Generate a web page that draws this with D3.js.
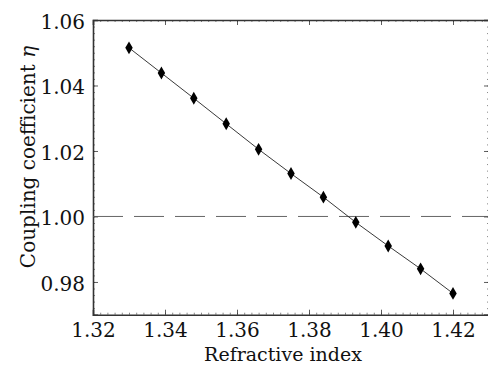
<!DOCTYPE html>
<html>
<head>
<meta charset="utf-8">
<script src="https://cdn.jsdelivr.net/npm/d3@7"></script>
<style>
  html, body { margin: 0; padding: 0; background: #fff; }
  svg text { font-family: "DejaVu Serif", "Liberation Serif", "Noto Serif", serif; fill: #111; }
</style>
</head>
<body>
<div id="chart"></div>
<script>
// values
const refractiveIndex = [1.330, 1.339, 1.348, 1.357, 1.366, 1.375, 1.384, 1.393, 1.402, 1.411, 1.420];
const couplingCoeff = [1.0515, 1.0438, 1.0361, 1.0283, 1.0205, 1.0131, 1.0059, 0.9982, 0.9910, 0.9840, 0.9765];
const xTicks = [1.32, 1.34, 1.36, 1.38, 1.40, 1.42];
const yTicks = [0.98, 1.00, 1.02, 1.04, 1.06];
const refLevel = [1.00];

const W = 488, H = 365;
const margin = {top: 20, right: -1, bottom: 50.3, left: 93};
const FONT = '"DejaVu Serif", "Liberation Serif", serif';

const svg = d3.select('#chart').append('svg')
    .attr('width', W)
    .attr('height', H);

const x = d3.scaleLinear().domain([1.32, 1.43]).range([margin.left, W - margin.right]);
const y = d3.scaleLinear().domain([0.97, 1.06]).range([H - margin.bottom, margin.top]);

const fmt = d3.format('.2f');
const xMinor = d3.range(1.32, 1.4301, 0.002);
const yMinor = d3.range(0.97, 1.0601, 0.002);

function styleAxis(g) {
    g.attr('font-family', null);
    g.select('.domain').attr('stroke', '#333').attr('stroke-width', 1.6);
    g.selectAll('.tick line').attr('stroke', '#333').attr('stroke-width', 0.8);
}

// minor ticks first, majors on top
function minor(axisFn, scale, vals, transform) {
    svg.append('g')
        .attr('transform', transform)
        .call(axisFn(scale).tickValues(vals).tickSize(-2).tickFormat(''))
        .call(g => g.select('.domain').remove())
        .call(g => g.selectAll('.tick line').attr('stroke', '#555').attr('stroke-width', 0.7));
}
minor(d3.axisBottom, x, xMinor, `translate(0,${y.range()[0]})`);
minor(d3.axisTop, x, xMinor, `translate(0,${margin.top})`);
minor(d3.axisLeft, y, yMinor, `translate(${margin.left},0)`);
minor(d3.axisRight, y, yMinor, `translate(${x.range()[1]},0)`);

// bottom
svg.append('g')
    .attr('transform', `translate(0,${y.range()[0]})`)
    .call(d3.axisBottom(x).tickValues(xTicks).tickSize(-5).tickPadding(8).tickFormat(fmt))
    .call(styleAxis)
    .call(g => g.selectAll('.tick text').attr('font-size', 20).style('font-family', FONT).attr('fill', '#111'));

// top
svg.append('g')
    .attr('transform', `translate(0,${margin.top})`)
    .call(d3.axisTop(x).tickValues(xTicks).tickSize(-5).tickFormat(''))
    .call(styleAxis);

// left
svg.append('g')
    .attr('transform', `translate(${margin.left},0)`)
    .call(d3.axisLeft(y).tickValues(yTicks).tickSize(-5).tickPadding(8).tickFormat(fmt))
    .call(styleAxis)
    .call(g => g.selectAll('.tick text').attr('font-size', 20).style('font-family', FONT).attr('fill', '#111').attr('dy', '0.42em'));

// right
svg.append('g')
    .attr('transform', `translate(${x.range()[1]},0)`)
    .call(d3.axisRight(y).tickValues(yTicks).tickSize(-5).tickFormat(''))
    .call(styleAxis);

// dashed reference at 1.00
svg.selectAll('.ref')
    .data(refLevel)
    .join('line')
    .attr('class', 'ref')
    .attr('x1', x(1.32)).attr('x2', x(1.43))
    .attr('y1', d => y(d)).attr('y2', d => y(d))
    .attr('stroke', '#555')
    .attr('stroke-width', 0.9)
    .attr('stroke-dasharray', '30,11');

const pts = refractiveIndex.map((v, i) => [v, couplingCoeff[i]]);

svg.append('path')
    .datum(pts)
    .attr('fill', 'none')
    .attr('stroke', '#222')
    .attr('stroke-width', 0.9)
    .attr('d', d3.line().x(d => x(d[0])).y(d => y(d[1])));

svg.selectAll('.pt')
    .data(pts)
    .join('path')
    .attr('class', 'pt')
    .attr('transform', d => `translate(${x(d[0])},${y(d[1])})`)
    .attr('d', d3.symbol().type(d3.symbolDiamond).size(48))
    .attr('fill', '#000');

// titles
svg.append('text')
    .attr('x', 283)
    .attr('y', 361)
    .attr('text-anchor', 'middle')
    .attr('font-size', 19)
    .style('font-family', FONT)
    .text('Refractive index');

const yt = svg.append('text')
    .attr('transform', 'translate(35,157) rotate(-90)')
    .attr('text-anchor', 'middle')
    .attr('font-size', 20)
    .style('font-family', FONT);
yt.append('tspan').text('Coupling coefficient ');
yt.append('tspan').attr('font-style', 'italic').text('η');
</script>
</body>
</html>
